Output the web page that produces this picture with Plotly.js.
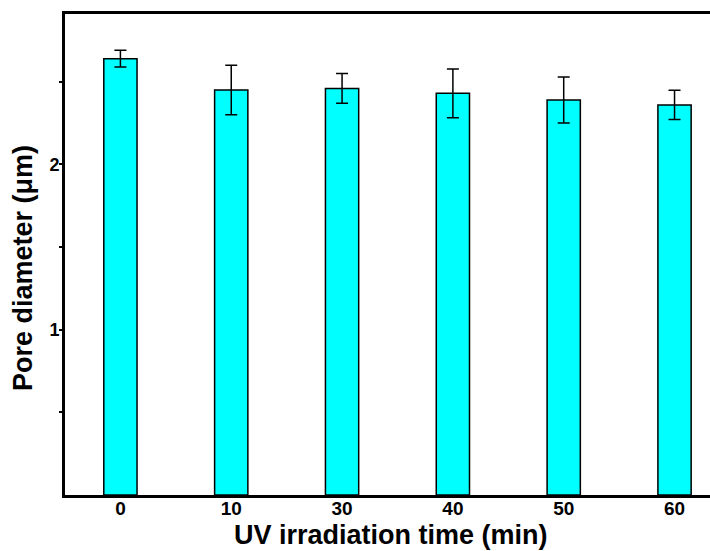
<!DOCTYPE html>
<html><head><meta charset="utf-8">
<script src="https://cdn.plot.ly/plotly-3.0.1.min.js"></script>
<style>html,body{margin:0;padding:0;background:#fff;}#chart{width:710px;height:551px;}</style>
</head><body><div id="chart"></div>
<script>
const categories = ['0', '10', '30', '40', '50', '60'];
const poreDiameter = [2.64, 2.45, 2.46, 2.43, 2.39, 2.36];
const errors = [0.05, 0.15, 0.09, 0.148, 0.139, 0.088];
const yTickVals = [0.5, 1, 1.5, 2, 2.5];
const yTickText = ['', '1', '', '2', ''];
const xTitle = 'UV irradiation time (min)';
const yTitle = 'Pore diameter (μm)';

const font = 'Liberation Sans, Arial, sans-serif';
const W = 710, H = 551, L = 65, R = 0, T = 14, B = 56;
const pw = W - L - R, ph = H - T - B;
Plotly.newPlot('chart', [{
  type: 'bar',
  x: categories,
  y: poreDiameter,
  width: 0.3,
  marker: {color: '#00FFFF', line: {color: '#000', width: 1.5}},
  error_y: {type: 'data', array: errors, visible: true, color: '#000', thickness: 1.5, width: 6}
}], {
  width: W, height: H,
  margin: {l: L, r: R, t: T, b: B},
  paper_bgcolor: '#fff', plot_bgcolor: '#fff',
  showlegend: false,
  xaxis: {
    type: 'category', range: [-0.5, 5.32],
    showline: true, linewidth: 3, linecolor: '#000', mirror: true,
    ticks: '', showgrid: false, zeroline: false,
    ticklabelstandoff: -6,
    tickfont: {family: font, size: 19, color: '#000', weight: 'bold'}
  },
  yaxis: {
    range: [0, 2.91],
    showline: true, linewidth: 3, linecolor: '#000',
    tickvals: yTickVals, ticktext: yTickText,
    ticks: 'outside', ticklen: 3, tickwidth: 2, tickcolor: '#000',
    ticklabelstandoff: -4,
    showgrid: false, zeroline: false,
    tickfont: {family: font, size: 18, color: '#000', weight: 'bold'}
  },
  annotations: [
    {text: xTitle, xref: 'paper', yref: 'paper', x: (391 - L) / pw, y: (T + ph - 535) / ph,
     xanchor: 'center', yanchor: 'middle', showarrow: false,
     font: {family: font, size: 27, color: '#000', weight: 'bold'}},
    {text: yTitle, xref: 'paper', yref: 'paper', x: (23 - L) / pw, y: (T + ph - 268) / ph,
     xanchor: 'center', yanchor: 'middle', showarrow: false, textangle: -90,
     font: {family: font, size: 27, color: '#000', weight: 'bold'}}
  ]
}, {displayModeBar: false, staticPlot: true});
</script></body></html>
